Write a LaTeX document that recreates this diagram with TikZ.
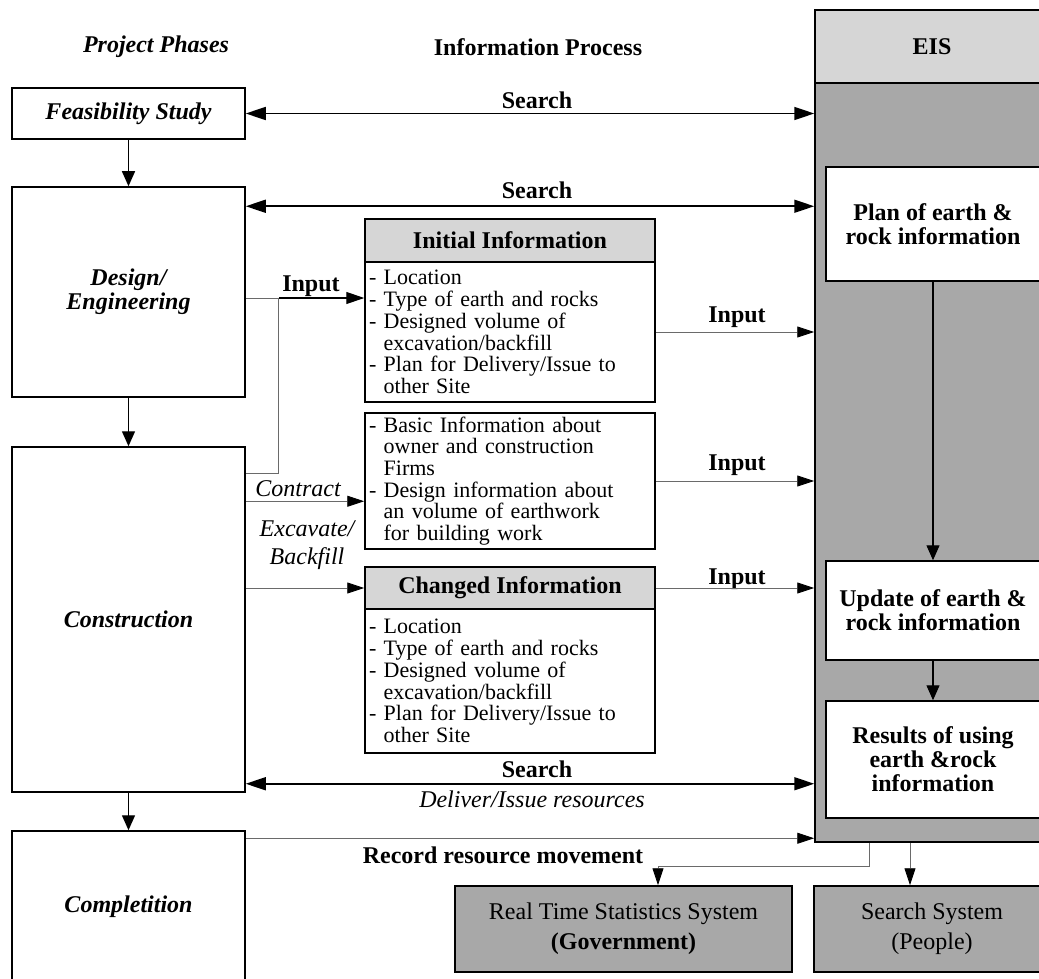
\documentclass[tikz,border=0pt]{standalone}
\usepackage{fontspec}
\setmainfont{Liberation Serif}
\usetikzlibrary{arrows.meta,calc}
\definecolor{lightg}{HTML}{D6D6D6}
\definecolor{darkg}{HTML}{A8A8A8}
\definecolor{lineg}{HTML}{6A6A6A}
\newcommand{\fsL}{\fontsize{24}{24}\selectfont}
\newcommand{\fsS}{\fontsize{22}{21.7}\selectfont}
\newcommand{\fsO}{\fontsize{24}{30}\selectfont}
\newcommand{\fsE}{\fontsize{24}{28}\selectfont}
\newcommand{\ind}{\phantom{-\ }}
\begin{document}
\begin{tikzpicture}[x=1pt,y=-1pt,
  every node/.style={inner sep=0pt},
  bx/.style={draw,line width=1.5pt,inner sep=0pt},
  phase/.style={bx,fill=white,minimum width=233pt,font=\fsL\bfseries\itshape,align=center},
  hdr/.style={bx,fill=lightg,minimum width=290pt,minimum height=43pt,font=\fsL\bfseries},
  infobody/.style={bx,fill=white,text width=282pt,inner xsep=4pt,align=left,font=\fsS},
  eisitem/.style={bx,fill=white,minimum width=214pt,font=\fsL\bfseries,align=center},
  outbox/.style={bx,fill=darkg,minimum height=86pt,font=\fsO,align=center},
  lbl/.style={font=\fsL\bfseries},
  ilbl/.style={font=\fsL\itshape},
  flowarr/.style={line width=1.3pt,-{Triangle[length=15pt,width=13pt]}},
  twoway/.style={line width=1.6pt,{Triangle[length=20pt,width=13pt]}-{Triangle[length=20pt,width=13pt]}},
  medarr/.style={line width=1.2pt,-{Triangle[length=18pt,width=12pt]}},
  thinarr/.style={line width=0.9pt,draw=lineg,-{Triangle[length=17pt,width=11pt,color=black]}},
  thinln/.style={line width=0.9pt,draw=lineg}
]
\useasboundingbox (0,0) rectangle (1039,979);
\clip (0,0) rectangle (1039,979);

% column headings
\node[font=\fsL\bfseries\itshape] (hpp) at (156,47) {Project Phases};
\node[lbl] (hip) at (538,47) {Information Process};

% project phases
\node[phase,minimum height=51pt] (feas) at (128.5,113.5) {Feasibility Study};
\node[phase,minimum height=210pt] (design) at (128.5,292) {Design/\\Engineering};
\node[phase,minimum height=345pt] (constr) at (128.5,619.5) {Construction};
\node[phase,minimum height=152pt] (compl) at (128.5,907) {Completition};

% EIS column
\node[bx,fill=darkg,minimum width=234pt,minimum height=759pt] (eisbody) at (932,462.5) {};
\node[bx,fill=lightg,minimum width=234pt,minimum height=73pt,font=\fsL\bfseries] (eishead) at (932,46.5) {EIS};
\node[eisitem,minimum height=114pt] (plan) at (933,224) {Plan of earth \&\\rock information};
\node[eisitem,minimum height=99pt] (update) at (933,610.5) {Update of earth \&\\rock information};
\node[eisitem,minimum height=117pt] (results) at (933,759.5) {Results of using\\earth \&rock\\information};

% information boxes
\node[hdr] (inithead) at (510,240.5) {Initial Information};
\node[infobody,minimum height=140pt] (initbody) at (510,332) {- Location\\- Type of earth and rocks\\- Designed volume of\\\ind excavation/backfill\\- Plan for Delivery/Issue to\\\ind other Site};
\node[infobody,minimum height=136pt] (ctrbox) at (510,481) {- Basic Information about\\\ind owner and construction\\\ind Firms\\- Design information about\\\ind an volume of earthwork\\\ind for building work};
\node[hdr,minimum height=42pt] (chghead) at (510,588) {Changed Information};
\node[infobody,minimum height=144pt] (chgbody) at (510,681) {- Location\\- Type of earth and rocks\\- Designed volume of\\\ind excavation/backfill\\- Plan for Delivery/Issue to\\\ind other Site};

% output systems
\node[outbox,minimum width=337pt] (rts) at (623.5,929) {Real Time Statistics System\\\textbf{(Government)}};
\node[outbox,minimum width=236pt] (ss) at (932,929) {Search System\\(People)};

% labels
\node[lbl] (s1) at (537,100) {Search};
\node[lbl] (s2) at (537,190) {Search};
\node[lbl] (in0) at (311,286) {Input};
\node[lbl] (in1) at (737,317) {Input};
\node[lbl] (in2) at (737,465) {Input};
\node[lbl] (in3) at (737,579) {Input};
\node[ilbl] (ctr) at (298,489) {Contract};
\node[ilbl,font=\fsE\itshape,align=center] (exc) at (307,545) {Excavate/\\Backfill};
\node[lbl] (s3) at (537,769) {Search};
\node[ilbl] (dlv) at (532,799) {Deliver/Issue resources};
\node[lbl] (rec) at (503,855) {Record resource movement};

% phase flow
\draw[flowarr] (feas.south) -- (design.north);
\draw[flowarr] (design.south) -- (constr.north);
\draw[flowarr] (constr.south) -- (compl.north);

% search arrows
\draw[twoway] (feas.east) -- (feas.east -| eisbody.west);
\coordinate (s2a) at ([yshift=-20pt]design.north east);
\draw[twoway] (s2a) -- (s2a -| eisbody.west);
\coordinate (c3) at ([yshift=9pt]constr.south east);
\draw[twoway] (c3) -- (c3 -| eisbody.west);

% inputs into information boxes
\coordinate (in0a) at ([yshift=-6pt]design.east);
\coordinate (jn) at ([xshift=33pt]in0a);
\coordinate (c0) at ([yshift=-27pt]constr.north east);
\draw[thinln] (in0a) -- (jn);
\draw[thinln] (c0) -| (jn);
\draw[medarr] (jn) -- (jn -| initbody.west);
\coordinate (c1) at ([yshift=-55pt]constr.north east);
\draw[thinarr] (c1) -- (c1 -| ctrbox.west);
\draw[thinarr] (constr.east |- chghead.west) -- (chghead.west);

% inputs into EIS
\draw[thinarr] (initbody.east) -- (initbody.east -| eisbody.west);
\draw[thinarr] (ctrbox.east) -- (ctrbox.east -| eisbody.west);
\draw[thinarr] (chghead.east) -- (chghead.east -| eisbody.west);
\coordinate (r0) at ([yshift=-8pt]compl.north east);
\draw[thinarr] (r0) -- (r0 -| eisbody.west);

% EIS internal flow
\draw[flowarr] (plan.south) -- (update.north);
\draw[flowarr] (update.south) -- (results.north);

% EIS outputs
\coordinate (b1) at ([xshift=-63pt]eisbody.south);
\coordinate (b1t) at ([xshift=34.5pt]rts.north);
\draw[thinarr] (b1) -- ++(0,24) -| (b1t);
\draw[thinarr] ([xshift=-22pt]eisbody.south) -- ([xshift=-22pt]ss.north);
\end{tikzpicture}
\end{document}
